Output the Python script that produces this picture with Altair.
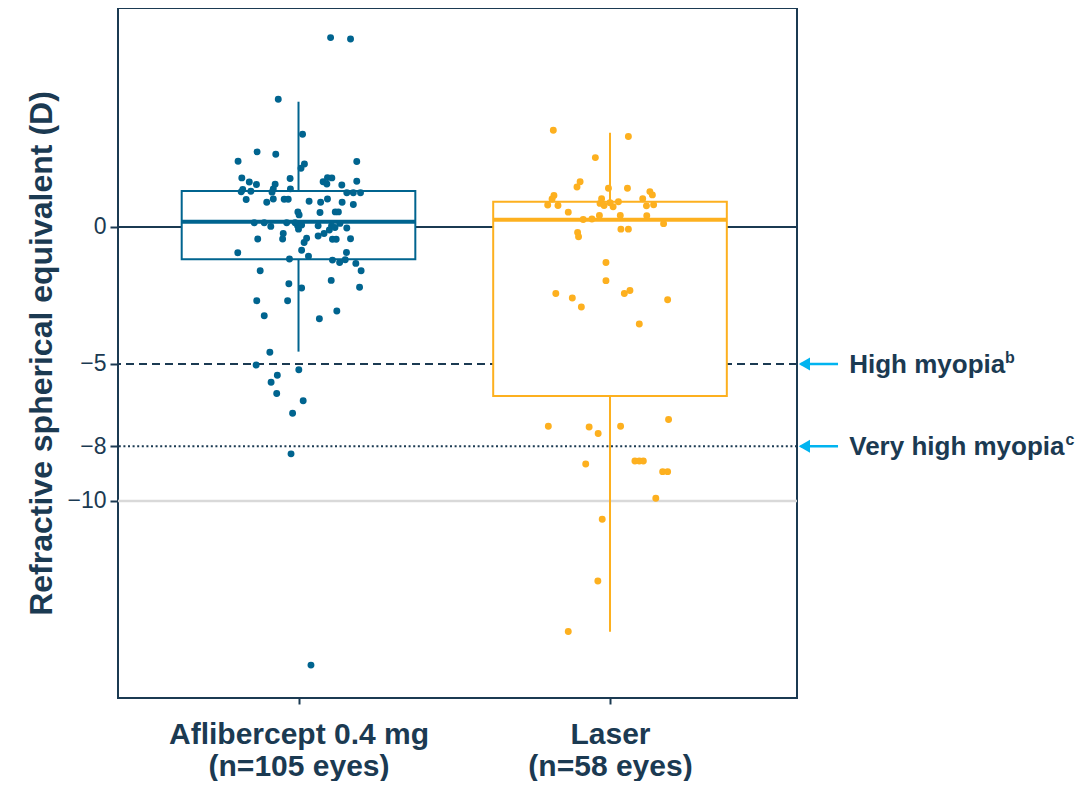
import altair as alt
import pandas as pd

# ---------------- data ----------------
GROUPS = ["Aflibercept 0.4 mg", "Laser"]
GROUP_N = ["(n=105 eyes)", "(n=58 eyes)"]
GROUP_POS = [1, 2]
COLORS = ["#00648f", "#fdb01f"]

BOX_Q1 = [-1.18, -6.17]
BOX_MEDIAN = [0.19, 0.26]
BOX_Q3 = [1.31, 0.92]
WHISKER_LOW = [-4.55, -14.77]
WHISKER_HIGH = [4.57, 3.44]

AFL_Y = [6.91, 6.86, 4.66, 3.38, 2.74, 2.65, 2.40, 2.39, 2.30, 2.14,
         1.79, 1.77, 1.64, 1.55, 1.56, 1.80, 1.79, 1.65, 1.57, 1.53,
         1.67, 1.37, 1.28, 1.30, 1.39, 1.27, 1.39, 1.25, 1.25, 1.25,
         1.00, 0.90, 1.02, 1.01, 1.01, 0.94, 0.90, 1.02, 0.90, 0.82,
         0.55, 0.44, 0.53, 0.55, 0.55, 0.15, 0.15, 0.02, 0.15, 0.15,
         0.04, -0.08, 0.07, 0.04, 0.04, 0.13, -0.04, -0.24, -0.44, -0.44,
         -0.41, -0.57, -0.33, -0.24, -0.11, -0.02, -0.45, -0.45, -0.43, -0.85,
         -1.07, -0.93, -0.94, -1.17, -1.21, -1.30, -1.20, -1.33, -1.60, -1.60,
         -1.95, -2.07, -2.23, -2.20, -2.69, -2.69, -3.24, -3.35, -3.07, -4.57,
         -5.04, -5.21, -5.41, -5.67, -6.08, -6.34, -6.80, -8.28, -15.99]
AFL_JITTER = [0.103, 0.167, -0.065, 0.013, -0.133, -0.073, -0.194, 0.187, 0.019, 0.008,
              -0.182, -0.027, -0.158, -0.135, -0.075, 0.093, 0.107, 0.079, 0.091, 0.139,
              0.187, -0.179, -0.184, -0.153, -0.081, -0.085, -0.026, 0.155, 0.176, 0.199,
              -0.168, -0.102, -0.081, -0.046, -0.033, 0.034, 0.071, 0.093, 0.140, 0.176,
              -0.002, 0.002, 0.069, 0.118, 0.128, -0.142, -0.110, -0.089, -0.038, -0.011,
              -0.003, 0.000, 0.010, 0.063, 0.106, 0.133, 0.155, -0.049, -0.051, -0.131,
              0.026, 0.018, 0.063, 0.082, 0.099, 0.117, 0.109, 0.121, 0.167, 0.010,
              0.032, 0.154, -0.195, -0.029, 0.109, 0.132, 0.150, 0.184, 0.201, -0.123,
              0.105, -0.031, 0.010, 0.196, -0.134, -0.035, -0.110, 0.067, 0.123, -0.092,
              -0.136, 0.001, -0.068, -0.088, -0.070, 0.015, -0.019, -0.024, 0.040]

LASER_Y = [3.53, 3.30, 2.53, 1.65, 1.46, 1.41, 1.41, 1.29, 1.17, 1.15,
           1.02, 0.80, 0.78, 1.03, 0.86, 0.78, 0.88, 0.92, 0.74, 1.03,
           0.77, 0.81, 0.54, 0.27, 0.29, 0.42, 0.42, 0.41, 0.12, -0.08,
           -0.08, -0.20, -0.36, -1.30, -1.96, -2.43, -2.59, -2.92, -2.43, -2.32,
           -2.66, -3.54, -7.27, -7.30, -7.54, -7.27, -7.03, -8.65, -8.54, -8.54,
           -8.54, -8.93, -8.93, -9.90, -10.67, -12.92, -14.76]
LASER_JITTER = [-0.182, 0.059, -0.047, -0.096, -0.106, -0.005, 0.056, 0.128, 0.136, -0.180,
                -0.186, -0.200, -0.167, -0.027, -0.032, -0.019, 0.000, 0.027, 0.010, 0.105,
                0.117, 0.140, -0.134, -0.086, -0.058, -0.034, 0.033, 0.118, 0.172, 0.035,
                0.059, -0.104, -0.101, -0.013, -0.013, -0.174, -0.121, -0.092, 0.046, 0.064,
                0.185, 0.094, -0.198, -0.067, -0.038, 0.034, 0.188, -0.078, 0.080, 0.094,
                0.107, 0.169, 0.185, 0.147, -0.025, -0.039, -0.134]

Y_TICKS = [0, -5, -8, -10]
HIGH_MYOPIA = -5
VERY_HIGH_MYOPIA = -8
ANNOT_MAIN = ["High myopia", "Very high myopia"]
ANNOT_SUP = ["b", "c"]
ANNOT_LEVEL = [HIGH_MYOPIA, VERY_HIGH_MYOPIA]

# ---------------- styling ----------------
NAVY = "#1b3a52"
CYAN = "#00b4f0"
FONT = "Liberation Sans"
BOX_HALF = 0.375
X_DOMAIN = [0.4205, 2.6003]
Y_DOMAIN = [-17.19, 7.99]

pts = pd.DataFrame({
    "group": [GROUPS[0]] * len(AFL_Y) + [GROUPS[1]] * len(LASER_Y),
    "x": [GROUP_POS[0] + j for j in AFL_JITTER] + [GROUP_POS[1] + j for j in LASER_JITTER],
    "y": AFL_Y + LASER_Y,
})
boxes = pd.DataFrame({
    "group": GROUPS, "pos": GROUP_POS, "q1": BOX_Q1, "median": BOX_MEDIAN,
    "q3": BOX_Q3, "lo": WHISKER_LOW, "hi": WHISKER_HIGH,
})

xs = alt.Scale(domain=X_DOMAIN, nice=False, zero=False)
ys = alt.Scale(domain=Y_DOMAIN, nice=False, zero=False)
cs = alt.Scale(domain=GROUPS, range=COLORS)

label_expr = "datum.value == {} ? {} : {}".format(
    GROUP_POS[0],
    str([GROUPS[0], GROUP_N[0]]),
    str([GROUPS[1], GROUP_N[1]]),
)

x_axis = alt.Axis(values=GROUP_POS, labelExpr=label_expr, title=None, domain=False,
                  grid=False, ticks=True, tickSize=6, tickWidth=2, tickColor=NAVY,
                  labelFont=FONT, labelFontSize=30, labelFontWeight="bold",
                  labelColor=NAVY, labelPadding=15, labelLineHeight=32,
                  labelAngle=0, labelLimit=0)
y_axis = alt.Axis(values=Y_TICKS, title="Refractive spherical equivalent (D)",
                  domain=False, grid=False, tickSize=8, tickWidth=2, tickColor=NAVY,
                  labelFont=FONT, labelFontSize=23, labelColor=NAVY, labelPadding=4,
                  titleFont=FONT, titleFontSize=32, titleFontWeight="bold",
                  titleColor=NAVY, titlePadding=8, labelLimit=0)

def hline(level, **kw):
    return alt.Chart(pd.DataFrame({"y": [level]})).mark_rule(**kw).encode(
        y=alt.Y("y:Q", scale=ys))

base_axes = alt.Chart(pts).mark_point(opacity=0).encode(
    x=alt.X("x:Q", scale=xs, axis=x_axis),
    y=alt.Y("y:Q", scale=ys, axis=y_axis),
)

line_gray = hline(-10, color="#d9d9d9", strokeWidth=2.5)
line_dot = hline(VERY_HIGH_MYOPIA, color=NAVY, strokeWidth=2, strokeDash=[2, 2.6])
line_dash = hline(HIGH_MYOPIA, color=NAVY, strokeWidth=2, strokeDash=[8, 5])
line_zero = hline(0, color=NAVY, strokeWidth=2)

bx = alt.Chart(boxes)
whisk = bx.mark_rule(strokeWidth=2).encode(
    x=alt.X("pos:Q", scale=xs), y=alt.Y("lo:Q", scale=ys), y2="hi:Q",
    color=alt.Color("group:N", scale=cs, legend=None))
rect = bx.transform_calculate(
    x1=f"datum.pos - {BOX_HALF}", x2=f"datum.pos + {BOX_HALF}"
).mark_rect(fill="white", strokeWidth=2).encode(
    x=alt.X("x1:Q", scale=xs), x2="x2:Q", y=alt.Y("q1:Q", scale=ys), y2="q3:Q",
    stroke=alt.Stroke("group:N", scale=cs, legend=None))
med = bx.transform_calculate(
    x1=f"datum.pos - {BOX_HALF}", x2=f"datum.pos + {BOX_HALF}"
).mark_rule(strokeWidth=4).encode(
    x=alt.X("x1:Q", scale=xs), x2="x2:Q", y=alt.Y("median:Q", scale=ys),
    color=alt.Color("group:N", scale=cs, legend=None))

dots = alt.Chart(pts).mark_circle(size=48, opacity=1).encode(
    x=alt.X("x:Q", scale=xs), y=alt.Y("y:Q", scale=ys),
    color=alt.Color("group:N", scale=cs, legend=None))

ann = pd.DataFrame({"main": ANNOT_MAIN, "sup": ANNOT_SUP, "y": ANNOT_LEVEL,
                    "ax1": [2.612, 2.612], "ax2": [2.732, 2.732],
                    "ahead": [2.624, 2.624], "tx": [2.768, 2.768],
                    "sx": [3.268, 3.462]})
ab = alt.Chart(ann)
arrow_line = ab.mark_rule(color=CYAN, strokeWidth=2.5).encode(
    x=alt.X("ax1:Q", scale=xs), x2="ax2:Q", y=alt.Y("y:Q", scale=ys))
arrow_head = ab.mark_point(shape="triangle-left", filled=True, color=CYAN, size=170,
                           opacity=1).encode(
    x=alt.X("ahead:Q", scale=xs), y=alt.Y("y:Q", scale=ys))
ann_text = ab.mark_text(align="left", baseline="middle", font=FONT, fontSize=26,
                        fontWeight="bold", color=NAVY, dy=1).encode(
    x=alt.X("tx:Q", scale=xs), y=alt.Y("y:Q", scale=ys), text="main:N")
ann_sup = ab.mark_text(align="left", baseline="middle", font=FONT, fontSize=16,
                       fontWeight="bold", color=NAVY, dy=-6).encode(
    x=alt.X("sx:Q", scale=xs), y=alt.Y("y:Q", scale=ys), text="sup:N")

chart = alt.layer(
    base_axes, line_gray, line_dot, line_dash, line_zero, whisk, rect, med, dots,
    arrow_line, arrow_head, ann_text, ann_sup,
).properties(
    width=679, height=690,
    background="white",
    autosize=alt.AutoSizeParams(type="none"),
    padding={"left": 110, "top": 0, "right": 279, "bottom": 83},
).configure_view(stroke=NAVY, strokeWidth=2)

chart.save("out.html", embed_options={"renderer": "svg", "actions": False})
